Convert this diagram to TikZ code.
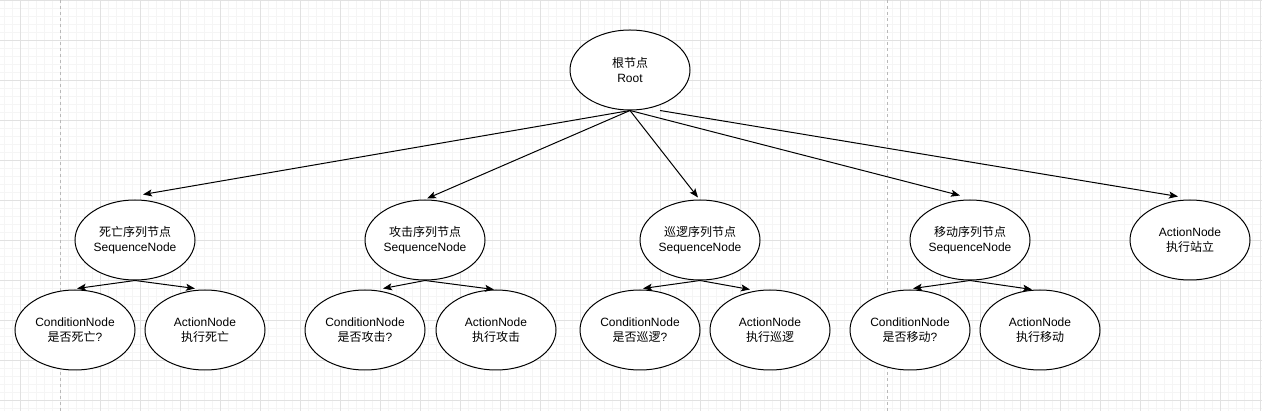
\documentclass[tikz,border=0pt]{standalone}
\usepackage{fontspec}
\setmainfont{Liberation Sans}
\newfontfamily\cjk{Noto Sans CJK SC}
\usetikzlibrary{shapes.geometric,arrows.meta}
\definecolor{gridminor}{RGB}{245,245,245}
\definecolor{gridmajor}{RGB}{225,225,225}
\definecolor{pageline}{RGB}{185,185,185}
\begin{document}
\begin{tikzpicture}[x=1pt,y=-1pt,
  tnode/.style={ellipse,draw,line width=1pt,fill=white,minimum width=120pt,minimum height=80pt,inner sep=0pt,align=center,font=\fontsize{12}{15}\selectfont},
  link/.style={line width=1pt,-{Stealth[length=9pt,width=7pt,inset=2pt]}}]
\useasboundingbox (0,0) rectangle (1262,411);
\fill[white] (0,0) rectangle (1262,411);
% background grid
\foreach \x in {4,12,...,1260} \draw[gridminor,line width=0.8pt] (\x,0) -- (\x,411);
\foreach \y in {8,16,...,408} \draw[gridminor,line width=0.8pt] (0,\y) -- (1262,\y);
\foreach \x in {20,100,140,...,1260} \draw[gridmajor,line width=0.8pt] (\x,0) -- (\x,411);
\foreach \y in {0.5,40,80,...,400} \draw[gridmajor,line width=0.8pt] (0,\y) -- (1262,\y);
\draw[pageline,line width=0.8pt,dash pattern=on 3pt off 3pt] (60.5,0) -- (60.5,411);
\draw[pageline,line width=0.8pt,dash pattern=on 3pt off 3pt] (887.5,0) -- (887.5,411);

% nodes
\node[tnode] (root) at (630,70) {{\cjk 根节点}\\Root};
\node[tnode] (sD) at (135,240) {{\cjk 死亡序列节点}\\SequenceNode};
\node[tnode] (sA) at (425,240) {{\cjk 攻击序列节点}\\SequenceNode};
\node[tnode] (sP) at (700,240) {{\cjk 巡逻序列节点}\\SequenceNode};
\node[tnode] (sM) at (970,240) {{\cjk 移动序列节点}\\SequenceNode};
\node[tnode] (stand) at (1190,240) {ActionNode\\{\cjk 执行站立}};
\node[tnode] (cD) at (75,330) {ConditionNode\\{\cjk 是否死亡}?};
\node[tnode] (aD) at (205,330) {ActionNode\\{\cjk 执行死亡}};
\node[tnode] (cA) at (365,330) {ConditionNode\\{\cjk 是否攻击}?};
\node[tnode] (aA) at (496,330) {ActionNode\\{\cjk 执行攻击}};
\node[tnode] (cP) at (640,330) {ConditionNode\\{\cjk 是否巡逻}?};
\node[tnode] (aP) at (770,330) {ActionNode\\{\cjk 执行巡逻}};
\node[tnode] (cM) at (910,330) {ConditionNode\\{\cjk 是否移动}?};
\node[tnode] (aM) at (1040,330) {ActionNode\\{\cjk 执行移动}};

% connectors from root
\draw[link] (root.south) -- ([shift={(8,-5)}]sD.north);
\draw[link] (root.south) -- ([shift={(2,-1)}]sA.north);
\draw[link] (root.south) -- ([shift={(-2,-2)}]sP.north);
\draw[link] (root.south) -- ([shift={(-10,-4)}]sM.north);
\draw[link] ([xshift=30pt]root.south) -- ([shift={(-12,-3)}]stand.north);

% connectors from sequences
\draw[link] (sD.south) -- ([shift={(2,-1)}]cD.north);
\draw[link] (sD.south) -- ([shift={(-10,-1)}]aD.north);
\draw[link] (sA.south) -- ([shift={(18,-1)}]cA.north);
\draw[link] (sA.south) -- ([shift={(-2,0)}]aA.north);
\draw[link] (sP.south) -- ([shift={(3,-1)}]cP.north);
\draw[link] (sP.south) -- ([shift={(-20,0)}]aP.north);
\draw[link] (sM.south) -- ([shift={(3,-1)}]cM.north);
\draw[link] (sM.south) -- ([shift={(-8,0)}]aM.north);
\end{tikzpicture}
\end{document}
